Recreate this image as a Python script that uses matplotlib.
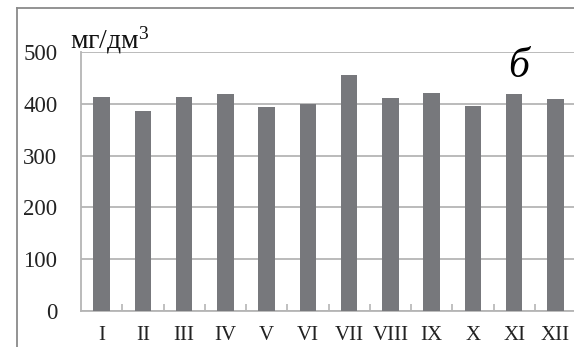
import matplotlib
matplotlib.use("Agg")
import matplotlib.pyplot as plt
from matplotlib.lines import Line2D
import numpy as np

months = ["I", "II", "III", "IV", "V", "VI", "VII", "VIII", "IX", "X", "XI", "XII"]
values = [413, 387, 414, 418, 393, 399, 455, 412, 420, 396, 418, 409]
yticks = [0, 100, 200, 300, 400, 500]

plt.rcParams["font.family"] = ["Liberation Serif", "DejaVu Serif"]
plt.rcParams["mathtext.fontset"] = "custom"
plt.rcParams["mathtext.rm"] = "Liberation Serif"

W, H, DPI = 574, 347, 100
fig = plt.figure(figsize=(W / DPI, H / DPI), dpi=DPI)

left, right, top, bottom = 81, 576, 52, 311
ax = fig.add_axes([left / W, 1 - bottom / H, (right - left) / W, (bottom - top) / H])

x = np.arange(len(months))
ax.bar(x, values, width=0.4, color="#77787c", zorder=3)

ax.set_xlim(-0.5, len(months) - 0.5)
ax.set_ylim(0, 500)
ax.set_yticks(yticks)
ax.set_yticklabels([str(v) for v in yticks], fontsize=16.5, color="#222222")
ax.tick_params(axis="y", length=0, pad=17)

ax.set_xticks(x)
ax.set_xticklabels(months, fontsize=15, color="#222222")
ax.set_xticks(np.arange(0.5, len(months) - 0.5, 1.0), minor=True)
ax.tick_params(axis="x", which="major", length=0, pad=11)
ax.tick_params(axis="x", which="minor", direction="in", length=5, width=1.2, color="#b5b5b5")

ax.grid(axis="y", color="#b5b5b5", linewidth=1.3, zorder=0)
for side in ("top", "right"):
    ax.spines[side].set_visible(False)
for side in ("left", "bottom"):
    ax.spines[side].set_color("#b5b5b5")
    ax.spines[side].set_linewidth(1.3)

ax.text(-0.77, 508, "мг/дм$\\mathregular{^{3}}$", fontsize=20, ha="left", va="baseline",
        color="#111111", clip_on=False)
ax.text(10.1, 472, "б", fontsize=30, style="italic", ha="center", va="center")

# outer frame
fig.add_artist(Line2D([17 / W, 1.0], [1 - 8 / H, 1 - 8 / H], color="#8a8a8a", linewidth=1.3,
                      transform=fig.transFigure))
fig.add_artist(Line2D([17 / W, 17 / W], [0, 1 - 8 / H], color="#8a8a8a", linewidth=1.3,
                      transform=fig.transFigure))

fig.savefig("out.png", dpi=DPI)
